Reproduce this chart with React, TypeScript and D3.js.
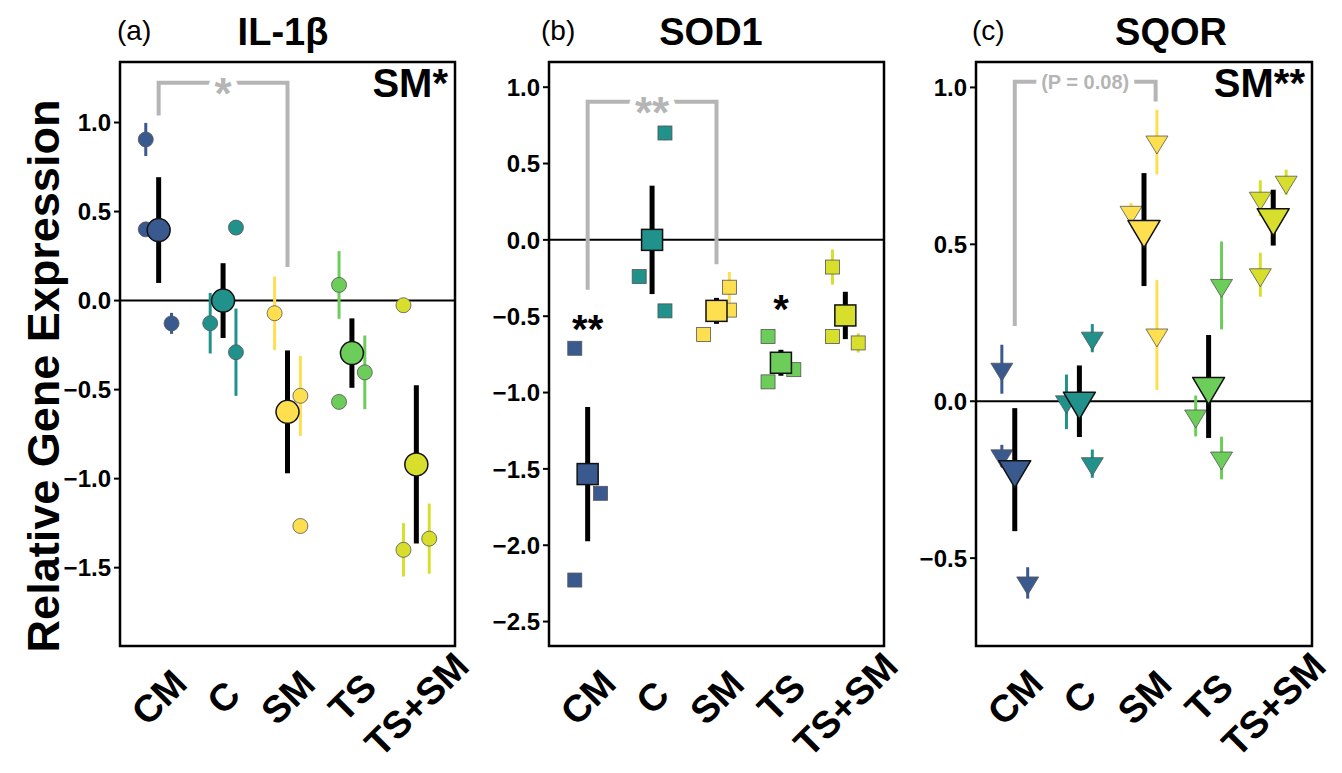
import React from "react";
import * as d3 from "d3";

const groups = ["CM", "C", "SM", "TS", "TS+SM"];
const groupColors = ["#3a5a8f", "#21918c", "#fddf50", "#6ccd5a", "#d7de2c"];

// IL-1β: group means, standard errors and replicate points [group, dodge side, value, se]
const il1bMean = [0.396, 0, -0.625, -0.295, -0.92];
const il1bSE = [0.297, 0.21, 0.345, 0.195, 0.445];
const il1bReps: [string, string, number, number][] = [
  ["CM", "L", 0.905, 0.093],
  ["CM", "L", 0.4, 0],
  ["CM", "R", -0.128, 0.059],
  ["C", "L", -0.127, 0.17],
  ["C", "R", 0.41, 0],
  ["C", "R", -0.29, 0.245],
  ["SM", "L", -0.071, 0.206],
  ["SM", "R", -0.535, 0.225],
  ["SM", "R", -1.266, 0],
  ["TS", "L", 0.088, 0.19],
  ["TS", "L", -0.569, 0],
  ["TS", "R", -0.403, 0.207],
  ["TS+SM", "L", -0.026, 0],
  ["TS+SM", "L", -1.4, 0.15],
  ["TS+SM", "R", -1.337, 0.197],
];
const il1bTicks = [-1.5, -1, -0.5, 0, 0.5, 1];
const il1bDomain = [-1.94, 1.34];

// SOD1
const sod1Mean = [-1.534, 0, -0.465, -0.805, -0.495];
const sod1SE = [0.44, 0.355, 0.085, 0.085, 0.155];
const sod1Reps: [string, string, number, number][] = [
  ["CM", "L", -0.71, 0],
  ["CM", "L", -2.228, 0],
  ["CM", "R", -1.66, 0],
  ["C", "L", -0.24, 0],
  ["C", "R", 0.7, 0.047],
  ["C", "R", -0.465, 0],
  ["SM", "L", -0.62, 0],
  ["SM", "R", -0.31, 0.1],
  ["SM", "R", -0.46, 0],
  ["TS", "L", -0.633, 0],
  ["TS", "L", -0.93, 0],
  ["TS", "R", -0.85, 0],
  ["TS+SM", "L", -0.178, 0.115],
  ["TS+SM", "L", -0.633, 0],
  ["TS+SM", "R", -0.675, 0.063],
];
const sod1Ticks = [-2.5, -2, -1.5, -1, -0.5, 0, 0.5, 1];
const sod1Domain = [-2.66, 1.165];

// SQOR
const sqorMean = [-0.218, 0, 0.547, 0.047, 0.585];
const sqorSE = [0.196, 0.114, 0.18, 0.164, 0.089];
const sqorReps: [string, string, number, number][] = [
  ["CM", "L", 0.102, 0.078],
  ["CM", "L", -0.174, 0.035],
  ["CM", "R", -0.579, 0.05],
  ["C", "L", -0.002, 0.087],
  ["C", "R", 0.201, 0.045],
  ["C", "R", -0.199, 0.045],
  ["SM", "L", 0.602, 0.03],
  ["SM", "R", 0.826, 0.103],
  ["SM", "R", 0.211, 0.175],
  ["TS", "L", -0.047, 0.065],
  ["TS", "R", 0.369, 0.14],
  ["TS", "R", -0.181, 0.068],
  ["TS+SM", "L", 0.647, 0.057],
  ["TS+SM", "L", 0.403, 0.07],
  ["TS+SM", "R", 0.698, 0.04],
];
const sqorTicks = [-0.5, 0, 0.5, 1];
const sqorDomain = [-0.78, 1.081];

// pairwise comparison brackets: [from group, to group, extra shift on "to", top, left end, right end, label]
const il1bBracket: [string, string, number, number, number, number, string] = ["CM", "SM", 0, 1.224, 1.04, 0.189, "*"];
const sod1Bracket: [string, string, number, number, number, number, string] = ["CM", "SM", 0, 0.905, -0.327, -0.16, "**"];
const sqorBracket: [string, string, number, number, number, number, string] = ["CM", "SM", 0.18, 1.018, 0.24, 0.955, "(P = 0.08)"];

// per-group significance stars [group, value, label]
const sod1Stars: [string, number, string][] = [["CM", -0.525, "**"], ["TS", -0.39, "*"]];

const panelTitles = ["IL-1β", "SOD1", "SQOR"];
const panelLetters = ["(a)", "(b)", "(c)"];
const mainEffects = ["SM*", "", "SM**"];

const FONT = "'Liberation Sans', Arial, Helvetica, sans-serif";
const TOP = 62;
const BOTTOM = 646;

type PanelProps = {
  left: number;
  right: number;
  domain: number[];
  ticks: number[];
  means: number[];
  ses: number[];
  reps: [string, string, number, number][];
  shape: "circle" | "square" | "triangle";
  bracket: [string, string, number, number, number, number, string];
  bracketFont: number;
  stars: [string, number, string][];
  title: string;
  titleX: number;
  letter: string;
  letterX: number;
  effect: string;
};

const Marker = ({ shape, x, y, big, fill, stroke, sw }: any) => {
  if (shape === "circle") {
    return <circle cx={x} cy={y} r={big ? 11.5 : 7.5} fill={fill} stroke={stroke} strokeWidth={sw} />;
  }
  if (shape === "square") {
    const s = big ? 21 : 14;
    return <rect x={x - s / 2} y={y - s / 2} width={s} height={s} fill={fill} stroke={stroke} strokeWidth={sw} />;
  }
  const w = big ? 32 : 22;
  const h = big ? 27 : 18;
  const p = `M${x - w / 2},${y - h / 3}L${x + w / 2},${y - h / 3}L${x},${y + (2 * h) / 3}Z`;
  return <path d={p} fill={fill} stroke={stroke} strokeWidth={sw} strokeLinejoin="round" />;
};

const Panel = (props: PanelProps) => {
  const { left, right, domain, ticks, means, ses, reps, shape, bracket, bracketFont, stars } = props;
  const x = d3.scalePoint<string>().domain(groups).range([left, right]).padding(0.6);
  const step = x.step();
  const dodge = d3.scaleOrdinal<string, number>().domain(["L", "R"]).range([-0.2 * step, 0.2 * step]);
  const y = d3.scaleLinear().domain(domain).range([BOTTOM, TOP]);
  const color = d3.scaleOrdinal<string, string>().domain(groups).range(groupColors);

  const [bFrom, bTo, bShift, bTop, bL, bR, bLabel] = bracket;
  const bx1 = x(bFrom)!;
  const bx2 = x(bTo)! + bShift * step;
  const bracketPath = `M${bx1},${y(bL)}L${bx1},${y(bTop)}L${bx2},${y(bTop)}L${bx2},${y(bR)}`;

  return (
    <g>
      <line x1={left} x2={right} y1={y(0)} y2={y(0)} stroke="#000" strokeWidth={2} />
      <path d={bracketPath} fill="none" stroke="#b5b5b5" strokeWidth={4} />
      <text
        x={(bx1 + bx2) / 2}
        y={y(bTop)}
        dy={bLabel.startsWith("(") ? "0.36em" : "0.6em"}
        textAnchor="middle"
        fontFamily={FONT}
        fontWeight="bold"
        fontSize={bracketFont}
        fill="#b5b5b5"
        stroke="#fff"
        strokeWidth={12}
        strokeLinejoin="round"
        paintOrder="stroke"
      >
        {bLabel}
      </text>

      {reps.map((r, i) => {
        const cx = x(r[0])! + dodge(r[1]);
        return r[3] > 0 ? (
          <line key={"rb" + i} x1={cx} x2={cx} y1={y(r[2] - r[3])} y2={y(r[2] + r[3])} stroke={color(r[0])} strokeWidth={3} />
        ) : null;
      })}
      {reps.map((r, i) => (
        <Marker key={"rp" + i} shape={shape} x={x(r[0])! + dodge(r[1])} y={y(r[2])} big={false} fill={color(r[0])} stroke="#555" sw={0.8} />
      ))}
      {groups.map((g, i) => (
        <line key={"mb" + g} x1={x(g)} x2={x(g)} y1={y(means[i] - ses[i])} y2={y(means[i] + ses[i])} stroke="#000" strokeWidth={5} />
      ))}
      {groups.map((g, i) => (
        <Marker key={"mp" + g} shape={shape} x={x(g)} y={y(means[i])} big={true} fill={color(g)} stroke="#111" sw={1.5} />
      ))}
      {stars.map((s, i) => (
        <text key={"st" + i} x={x(s[0])} y={y(s[1])} dy="0.58em" textAnchor="middle" fontFamily={FONT} fontWeight="bold" fontSize={40} fill="#000">
          {s[2]}
        </text>
      ))}

      {ticks.map((t) => (
        <g key={"t" + t} transform={`translate(${left},${y(t)})`}>
          <line x1={-6} x2={0} stroke="#000" strokeWidth={2} />
          <text x={-9} dy="0.36em" textAnchor="end" fontFamily={FONT} fontWeight="bold" fontSize={24} fill="#000">
            {d3.format(".1f")(t)}
          </text>
        </g>
      ))}
      {groups.map((g) => (
        <text
          key={"xl" + g}
          transform={`translate(${x(g)},${g.length > 3 ? 704 : 697}) rotate(-45)`}
          dy="0.36em"
          textAnchor="middle"
          fontFamily={FONT}
          fontWeight="bold"
          fontSize={38}
          fill="#000"
        >
          {g}
        </text>
      ))}

      <rect x={left} y={TOP} width={right - left} height={BOTTOM - TOP} fill="none" stroke="#000" strokeWidth={2.5} />
      {props.effect ? (
        <text x={right - 7} y={97} textAnchor="end" fontFamily={FONT} fontWeight="bold" fontSize={40} fill="#000">
          {props.effect}
        </text>
      ) : null}
      <text x={props.letterX} y={40} fontFamily={FONT} fontSize={28} fill="#000">
        {props.letter}
      </text>
      <text x={props.titleX} y={45} textAnchor="middle" fontFamily={FONT} fontWeight="bold" fontSize={38} fill="#000">
        {props.title}
      </text>
    </g>
  );
};

export default function App() {
  return (
    <svg width={1342} height={773} style={{ display: "block", position: "absolute", left: 0, top: 0, background: "#fff" }}>
      <text transform="translate(59,376) rotate(-90)" textAnchor="middle" fontFamily={FONT} fontWeight="bold" fontSize={45} fill="#000">
        Relative Gene Expression
      </text>
      <Panel
        left={120}
        right={455}
        domain={il1bDomain}
        ticks={il1bTicks}
        means={il1bMean}
        ses={il1bSE}
        reps={il1bReps}
        shape="circle"
        bracket={il1bBracket}
        bracketFont={44}
        stars={[]}
        title={panelTitles[0]}
        titleX={283}
        letter={panelLetters[0]}
        letterX={117}
        effect={mainEffects[0]}
      />
      <Panel
        left={549}
        right={884}
        domain={sod1Domain}
        ticks={sod1Ticks}
        means={sod1Mean}
        ses={sod1SE}
        reps={sod1Reps}
        shape="square"
        bracket={sod1Bracket}
        bracketFont={44}
        stars={sod1Stars}
        title={panelTitles[1]}
        titleX={711}
        letter={panelLetters[1]}
        letterX={541}
        effect={mainEffects[1]}
      />
      <Panel
        left={976}
        right={1312}
        domain={sqorDomain}
        ticks={sqorTicks}
        means={sqorMean}
        ses={sqorSE}
        reps={sqorReps}
        shape="triangle"
        bracket={sqorBracket}
        bracketFont={20}
        stars={[]}
        title={panelTitles[2]}
        titleX={1171}
        letter={panelLetters[2]}
        letterX={972}
        effect={mainEffects[2]}
      />
    </svg>
  );
}
